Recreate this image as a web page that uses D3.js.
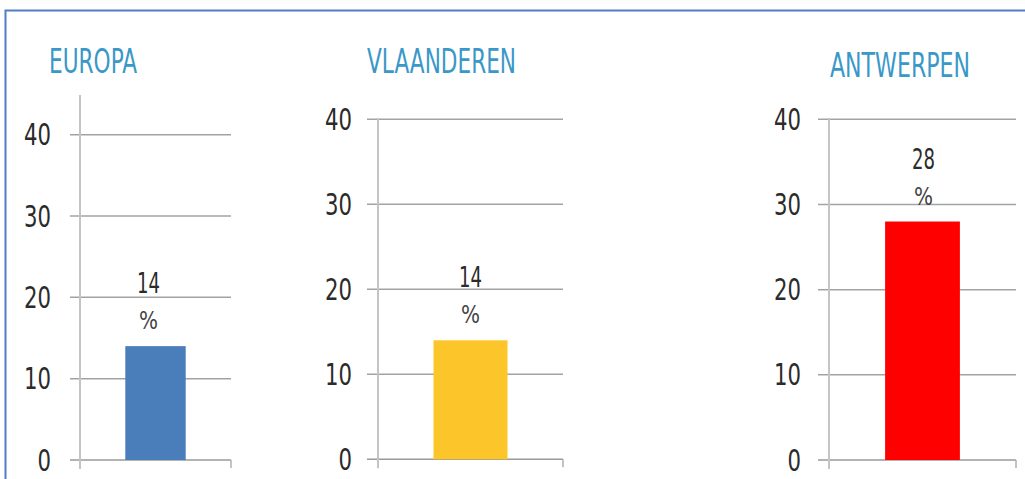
<!DOCTYPE html>
<html>
<head>
<meta charset="utf-8">
<script src="https://cdn.jsdelivr.net/npm/d3@7"></script>
<style>
  body { margin: 0; background: white; }
  text { font-family: "Liberation Sans Narrow", "DejaVu Sans Condensed", "Noto Sans", sans-serif; }
</style>
</head>
<body>
<svg id="chart_svg" width="1025" height="479"></svg>
<script>
var regions = ['EUROPA', 'VLAANDEREN', 'ANTWERPEN'];
var values = [14, 14, 28];
var tickValues = [0, 10, 20, 30, 40];
var barColors = ['#4a7ebb', '#fcc62a', '#ff0000'];

/* layout of each small chart */
var panels = [
  { titleX: 49, titleY: 72.5, titleW: 88, tickX: 51, axisX: 80, axisTop: 95, gridX0: 70, gridX1: 231, yZero: 460, yTop: 134.7, labelDx: -7 },
  { titleX: 367, titleY: 72.5, titleW: 149, tickX: 352, axisX: 378, axisTop: 118, gridX0: 367, gridX1: 563, yZero: 459.3, yTop: 119.3, labelDx: 0 },
  { titleX: 830, titleY: 77.3, titleW: 140, tickX: 801, axisX: 829, axisTop: 118, gridX0: 818, gridX1: 1016, yZero: 460, yTop: 119.3, labelDx: 1 }
];

var svg = d3.select('#chart_svg');

/* outer frame */
svg.append('path')
  .attr('d', 'M5.5,479 L5.5,10.5 L1025,10.5')
  .style('fill', 'none').style('stroke', '#4f7fc6').style('stroke-width', 2);

regions.forEach(function(region, i){
  var p = panels[i];
  var g = svg.append('g');

  var y = d3.scaleLinear().domain([0, 40]).range([p.yZero, p.yTop]);
  var x = d3.scaleBand().domain([region]).range([p.axisX, p.gridX1]).paddingInner(0.6).paddingOuter(0.3);

  /* title */
  g.append('text')
    .attr('x', p.titleX).attr('y', p.titleY)
    .attr('textLength', p.titleW).attr('lengthAdjust', 'spacingAndGlyphs')
    .style('font-size', '33px').style('fill', '#3a98c8')
    .text(region);

  /* gridlines */
  g.selectAll('line.grid').data(tickValues).enter().append('line')
    .attr('class', 'grid')
    .attr('x1', p.gridX0).attr('x2', p.gridX1)
    .attr('y1', function(d){ return y(d); }).attr('y2', function(d){ return y(d); })
    .style('stroke', function(d){ return d === 0 ? '#9a9a9a' : '#a3a3a3'; })
    .style('stroke-width', 1.5);

  /* y axis line and small end ticks */
  g.append('line')
    .attr('x1', p.axisX).attr('x2', p.axisX).attr('y1', p.axisTop).attr('y2', y(0) + 9)
    .style('stroke', '#c4c4c4').style('stroke-width', 2);
  g.append('line')
    .attr('x1', p.gridX1).attr('x2', p.gridX1).attr('y1', y(0)).attr('y2', y(0) + 8)
    .style('stroke', '#b0b0b0').style('stroke-width', 1.5);

  /* tick labels */
  g.selectAll('text.tick').data(tickValues).enter().append('text')
    .attr('class', 'tick')
    .attr('x', p.tickX)
    .attr('y', function(d){ return y(d) + 10.5; })
    .attr('textLength', function(d){ return String(d).length * 13.5; })
    .attr('lengthAdjust', 'spacingAndGlyphs')
    .style('text-anchor', 'end').style('font-size', '30px').style('fill', '#2b2b2b')
    .text(function(d){ return d; });

  /* bar */
  g.append('rect')
    .attr('x', x(region)).attr('width', x.bandwidth())
    .attr('y', y(values[i])).attr('height', y(0) - y(values[i]))
    .style('fill', barColors[i]);

  /* value label, wrapped over two lines */
  var cx = x(region) + x.bandwidth() / 2 + p.labelDx;
  g.append('text')
    .attr('x', cx).attr('y', y(values[i]) - 53)
    .attr('textLength', String(values[i]).length * 11.5).attr('lengthAdjust', 'spacingAndGlyphs')
    .style('text-anchor', 'middle').style('font-size', '29px').style('fill', '#2b2b2b')
    .text(values[i]);
  g.append('text')
    .attr('x', cx).attr('y', y(values[i]) - 17)
    .attr('textLength', 19).attr('lengthAdjust', 'spacingAndGlyphs')
    .style('text-anchor', 'middle').style('font-size', '24px').style('fill', '#444')
    .text('%');
});
</script>
</body>
</html>
